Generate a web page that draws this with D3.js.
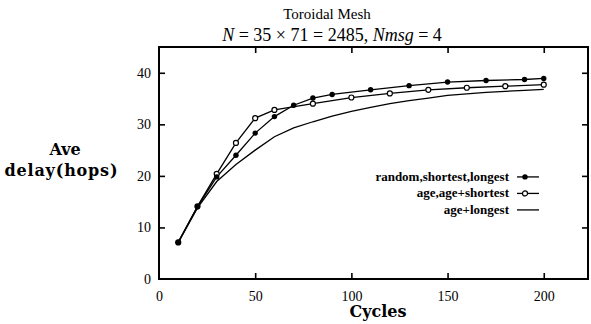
<!DOCTYPE html>
<html>
<head>
<meta charset="utf-8">
<script src="https://cdn.jsdelivr.net/npm/d3@7"></script>
<style>
  body { margin: 0; background: #fff; }
</style>
</head>
<body>
<div id="chart"></div>
<script>
// values
var cyclesFilled = [10, 20, 30, 40, 50, 60, 70, 80, 90, 110, 130, 150, 170, 190, 200],
    delayFilled = [7.1, 14.0, 19.8, 24.0, 28.3, 31.5, 33.7, 35.1, 35.8, 36.7, 37.5, 38.2, 38.5, 38.7, 38.9],
    cyclesOpen = [10, 20, 30, 40, 50, 60, 80, 100, 120, 140, 160, 180, 200],
    delayOpen = [7.1, 14.1, 20.4, 26.4, 31.2, 32.8, 34.0, 35.2, 36.0, 36.7, 37.1, 37.4, 37.7],
    cyclesPlain = [10, 20, 30, 40, 50, 60, 70, 80, 90, 100, 110, 120, 130, 140, 150, 160, 170, 180, 190, 200],
    delayPlain = [7.1, 13.8, 18.9, 22.2, 25.0, 27.6, 29.3, 30.5, 31.6, 32.5, 33.3, 34.0, 34.6, 35.1, 35.6, 35.9, 36.2, 36.4, 36.6, 36.8],
    seriesNames = ["random,shortest,longest", "age,age+shortest", "age+longest"],
    xTicks = [0, 50, 100, 150, 200],
    yTicks = [0, 10, 20, 30, 40];

var W = 591, H = 324,
    margin = { top: 47, right: 3, bottom: 45, left: 159 },
    width = W - margin.left - margin.right,
    height = H - margin.top - margin.bottom,
    serif = "Liberation Serif",
    wide = "DejaVu Serif";

var svg = d3.select("#chart").append("svg")
    .attr("width", W)
    .attr("height", H);

var g = svg.append("g")
    .attr("transform", "translate(" + margin.left + "," + margin.top + ")");

var x = d3.scaleLinear().domain([0, 223]).range([0, width]),
    y = d3.scaleLinear().domain([0, 45]).range([height, 0]);

function zip(xs, ys) {
    return xs.map(function (d, i) { return { x: d, y: ys[i] }; });
}

var line = d3.line()
    .x(function (d) { return x(d.x); })
    .y(function (d) { return y(d.y); });

function styleAxis(a) {
    a.attr("font-family", serif).attr("font-size", 14);
    a.select(".domain").remove();
    a.selectAll(".tick line").attr("stroke", "#000").attr("stroke-width", 1.6);
    a.selectAll(".tick text").attr("fill", "#000");
}

// axes: ticks point into the plot on all four sides
g.append("g")
    .attr("transform", "translate(0," + height + ")")
    .call(d3.axisBottom(x).tickValues(xTicks).tickSize(-6).tickPadding(12).tickFormat(d3.format("d")))
    .call(styleAxis)
    .call(function (a) {
        a.selectAll(".tick line").filter(function (d) { return d === 0; }).remove();
    });

g.append("g")
    .call(d3.axisTop(x).tickValues(xTicks.slice(1)).tickSize(-6).tickFormat(""))
    .call(styleAxis);

g.append("g")
    .call(d3.axisLeft(y).tickValues(yTicks).tickSize(-6).tickPadding(8))
    .call(styleAxis)
    .call(function (a) {
        a.selectAll(".tick line").filter(function (d) { return d === 0; }).remove();
    });

g.append("g")
    .attr("transform", "translate(" + width + ",0)")
    .call(d3.axisRight(y).tickValues(yTicks.slice(1)).tickSize(-6).tickFormat(""))
    .call(styleAxis);

// frame
g.append("rect")
    .attr("width", width)
    .attr("height", height)
    .attr("fill", "none")
    .attr("stroke", "#000")
    .attr("stroke-width", 2);

// lines
var dataFilled = zip(cyclesFilled, delayFilled),
    dataOpen = zip(cyclesOpen, delayOpen),
    dataPlain = zip(cyclesPlain, delayPlain);

[dataPlain, dataOpen, dataFilled].forEach(function (d) {
    g.append("path")
        .datum(d)
        .attr("fill", "none")
        .attr("stroke", "#000")
        .attr("stroke-width", 1.3)
        .attr("d", line);
});

g.selectAll(".open")
    .data(dataOpen)
    .enter().append("circle")
    .attr("cx", function (d) { return x(d.x); })
    .attr("cy", function (d) { return y(d.y); })
    .attr("r", 2.5)
    .attr("fill", "#fff")
    .attr("stroke", "#000")
    .attr("stroke-width", 1.2);

g.selectAll(".filled")
    .data(dataFilled)
    .enter().append("circle")
    .attr("cx", function (d) { return x(d.x); })
    .attr("cy", function (d) { return y(d.y); })
    .attr("r", 2.7)
    .attr("fill", "#000");

// legend
var legend = g.append("g").attr("transform", "translate(" + (width - 79) + "," + (y(19.8)) + ")");

seriesNames.forEach(function (name, i) {
    var row = legend.append("g").attr("transform", "translate(0," + i * 16.5 + ")");
    row.append("text")
        .attr("x", 0)
        .attr("y", 4)
        .attr("text-anchor", "end")
        .attr("font-family", serif)
        .attr("font-weight", "bold")
        .attr("font-size", 13)
        .text(name);
    row.append("line")
        .attr("x1", 8).attr("x2", 30)
        .attr("stroke", "#000")
        .attr("stroke-width", 1.3);
    if (i === 0) {
        row.append("circle").attr("cx", 16).attr("r", 2.7).attr("fill", "#000");
    } else if (i === 1) {
        row.append("circle").attr("cx", 16).attr("r", 2.5)
            .attr("fill", "#fff").attr("stroke", "#000").attr("stroke-width", 1.2);
    }
});

// titles
svg.append("text")
    .attr("x", 327)
    .attr("y", 19)
    .attr("text-anchor", "middle")
    .attr("font-family", serif)
    .attr("font-size", 15)
    .text("Toroidal Mesh");

var sub = svg.append("text")
    .attr("x", 332)
    .attr("y", 41)
    .attr("text-anchor", "middle")
    .attr("font-family", serif)
    .attr("font-size", 18);
sub.append("tspan").attr("font-style", "italic").text("N");
sub.append("tspan").text(" = 35 × 71 = 2485, ");
sub.append("tspan").attr("font-style", "italic").text("Nmsg");
sub.append("tspan").text(" = 4");

// axis titles
svg.append("text")
    .attr("x", 65)
    .attr("y", 155)
    .attr("text-anchor", "middle")
    .attr("font-family", wide)
    .attr("font-weight", "bold")
    .attr("font-size", 16)
    .text("Ave");

svg.append("text")
    .attr("x", 61)
    .attr("y", 176)
    .attr("text-anchor", "middle")
    .attr("font-family", wide)
    .attr("font-weight", "bold")
    .attr("font-size", 16)
    .attr("textLength", 113)
    .text("delay(hops)");

svg.append("text")
    .attr("x", 378)
    .attr("y", 317)
    .attr("text-anchor", "middle")
    .attr("font-family", wide)
    .attr("font-weight", "bold")
    .attr("font-size", 16)
    .text("Cycles");
</script>
</body>
</html>
